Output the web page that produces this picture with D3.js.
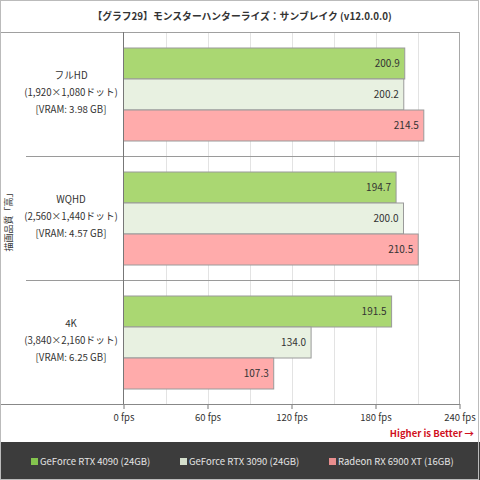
<!DOCTYPE html>
<html><head><meta charset="utf-8">
<script src="https://cdn.jsdelivr.net/npm/d3@7"></script>
<style>body{margin:0;background:#fff}svg text{font-family:"Noto Sans CJK JP","DejaVu Sans",sans-serif}</style>
</head><body><svg id="c" width="480" height="480"></svg>
<script>
const title = "【グラフ29】モンスターハンターライズ：サンブレイク (v12.0.0.0)";
const categories = ["フルHD", "WQHD", "4K"];
const categoryLines = [
  ["フルHD", "(1,920×1,080ドット)", "[VRAM: 3.98 GB]"],
  ["WQHD", "(2,560×1,440ドット)", "[VRAM: 4.57 GB]"],
  ["4K", "(3,840×2,160ドット)", "[VRAM: 6.25 GB]"]
];
const series = ["GeForce RTX 4090 (24GB)", "GeForce RTX 3090 (24GB)", "Radeon RX 6900 XT (16GB)"];
const rtx4090 = [200.9, 194.7, 191.5];
const rtx3090 = [200.2, 200.0, 134.0];
const rx6900 = [214.5, 210.5, 107.3];
const values = [rtx4090, rtx3090, rx6900];
const ticks = [0, 60, 120, 180, 240];
const gridTicks = [30, 60, 90, 120, 150, 180, 210];
const yTitle = "描画品質「高」";
const note = "Higher is Better →";

const barFill = ["#aad772", "#e8f1e1", "#ffabab"];
const legendFill = ["#84c44e", "#d4dfcc", "#e88e8e"];

const svg = d3.select("#c");
const x = d3.scaleLinear().domain([0, 240]).range([123.5, 459.5]);
const y = d3.scaleBand().domain(categories).range([32, 404]);
const ys = d3.scaleBand().domain(series).range([0, y.bandwidth()]).paddingInner(0).paddingOuter(0.5);

// grid
svg.append("g").selectAll("line").data(gridTicks).join("line")
  .attr("x1", d => Math.round(x(d)) + 0.5).attr("x2", d => Math.round(x(d)) + 0.5)
  .attr("y1", 32).attr("y2", 404).attr("stroke", "#e3e3e3");

// bars
const rows = [];
categories.forEach((c, i) => series.forEach((s, j) => rows.push({c, s, j, v: values[j][i]})));
const g = svg.append("g");
g.selectAll("rect").data(rows).join("rect")
  .attr("x", x(0)).attr("y", d => y(d.c) + ys(d.s) + 0.5)
  .attr("width", d => x(d.v) - x(0)).attr("height", ys.bandwidth())
  .attr("fill", d => barFill[d.j]).attr("stroke", "#9a9a9a").attr("stroke-width", 1);
g.selectAll("text").data(rows).join("text")
  .attr("x", d => x(d.v) - 5).attr("y", d => y(d.c) + ys(d.s) + ys.bandwidth() / 2 + 4)
  .attr("text-anchor", "end").attr("font-size", 10).attr("fill", "#333")
  .text(d => d.v.toFixed(1));

// frame lines
const line = (x1, y1, x2, y2, c) => svg.append("line").attr("x1", x1).attr("y1", y1).attr("x2", x2).attr("y2", y2).attr("stroke", c);
line(0, 32.5, 460, 32.5, "#a0a0a0");
line(459.5, 32, 459.5, 404, "#a8a8a8");
categories.slice(1).forEach(c => line(26, Math.round(y(c)) + 0.5, 460, Math.round(y(c)) + 0.5, "#9a9a9a"));
line(123.5, 32, 123.5, 404, "#777");

// x axis
const ax = svg.append("g").attr("transform", "translate(0,404)")
  .call(d3.axisBottom(x).tickValues(ticks).tickSize(5).tickFormat(d => d + " fps"));
ax.select(".domain").remove();
line(0, 404.5, 460, 404.5, "#888");
ax.selectAll(".tick line").attr("stroke", "#777");
ax.selectAll(".tick text").attr("font-size", 9.5).attr("fill", "#333").attr("dy", "0.95em")
  .attr("font-family", '"Noto Sans CJK JP",sans-serif');

// category labels
categoryLines.forEach((ls, i) => {
  const cy = y(categories[i]) + y.bandwidth() / 2;
  ls.forEach((t, k) => svg.append("text").attr("x", 71).attr("y", cy + (k - 1) * 17 + 2)
    .attr("text-anchor", "middle").attr("font-size", 9.7).attr("fill", "#333").text(t));
});

// y title
svg.append("text").attr("transform", `translate(12,220) rotate(-90)`)
  .attr("text-anchor", "middle").attr("font-size", 9).attr("fill", "#333").text(yTitle);

// title
svg.append("text").attr("x", 242).attr("y", 20).attr("text-anchor", "middle")
  .attr("font-size", 9.8).attr("font-weight", "bold").attr("fill", "#333").text(title);

// note
svg.append("text").attr("x", 474).attr("y", 437).attr("text-anchor", "end")
  .attr("font-size", 9.5).attr("font-weight", "bold").attr("fill", "#d0101e").text(note);

// legend
svg.append("rect").attr("x", 0).attr("y", 442).attr("width", 480).attr("height", 38).attr("fill", "#3c3c3c");
const legX = [31, 180, 329];
series.forEach((s, j) => {
  svg.append("rect").attr("x", legX[j]).attr("y", 458).attr("width", 7).attr("height", 7).attr("fill", legendFill[j]);
  svg.append("text").attr("x", legX[j] + 9).attr("y", 465).attr("font-size", 9.5).attr("fill", "#e4e4e4").text(s);
});

// outer border
svg.append("rect").attr("x", 0.5).attr("y", 0.5).attr("width", 478).attr("height", 479).attr("fill", "none").attr("stroke", "#bbb");
</script></body></html>
